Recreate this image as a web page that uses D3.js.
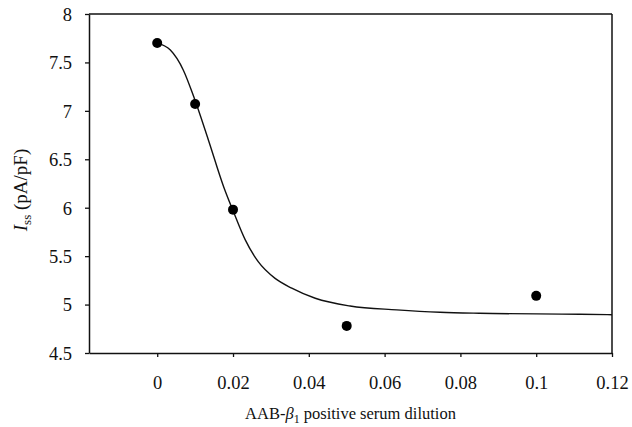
<!DOCTYPE html>
<html>
<head>
<meta charset="utf-8">
<script src="https://cdn.jsdelivr.net/npm/d3@7"></script>
<style>
  body { margin: 0; background: #fff; }
  svg text { font-family: "Liberation Serif", "Times New Roman", serif; fill: #111; }
</style>
</head>
<body>
<div id="chart"></div>
<script>
// measured points
const doseX = [0, 0.01, 0.02, 0.05, 0.1];
const currentY = [7.7, 7.07, 5.98, 4.78, 5.09];

// fitted curve
const fitX = [0, 0.0034, 0.0069, 0.0096, 0.0135, 0.0175, 0.0201, 0.0232, 0.0267, 0.0311, 0.0355, 0.0417, 0.0509, 0.0632, 0.0746, 0.085, 0.1115, 0.12];
const fitY = [7.7, 7.63, 7.42, 7.15, 6.7, 6.22, 5.96, 5.67, 5.44, 5.27, 5.17, 5.065, 4.985, 4.945, 4.92, 4.91, 4.9, 4.895];

const xTicks = [0, 0.02, 0.04, 0.06, 0.08, 0.1, 0.12];
const yTicks = [4.5, 5, 5.5, 6, 6.5, 7, 7.5, 8];

const W = 632, H = 427;
const margin = {left: 89, right: 20, top: 14, bottom: 74};

const svg = d3.select("#chart").append("svg")
    .attr("width", W)
    .attr("height", H);

const x = d3.scaleLinear()
    .domain([-0.018, 0.12])
    .range([margin.left, W - margin.right]);

const y = d3.scaleLinear()
    .domain([4.5, 8])
    .range([H - margin.bottom, margin.top]);

// frame (top + right)
svg.append("line")
    .attr("x1", x.range()[0]).attr("x2", x.range()[1])
    .attr("y1", y(8)).attr("y2", y(8))
    .attr("stroke", "#111").attr("stroke-width", 1.5);
svg.append("line")
    .attr("x1", x(0.12)).attr("x2", x(0.12))
    .attr("y1", y(8)).attr("y2", y(4.5))
    .attr("stroke", "#111").attr("stroke-width", 1.5);

// x axis
const xAxis = svg.append("g")
    .attr("transform", `translate(0,${y(4.5)})`)
    .call(d3.axisBottom(x).tickValues(xTicks).tickSize(4).tickPadding(19).tickSizeOuter(0)
        .tickFormat(d => d3.format("")(+d.toFixed(2))));

// y axis
const yAxis = svg.append("g")
    .attr("transform", `translate(${x(-0.018)},0)`)
    .call(d3.axisLeft(y).tickValues(yTicks).tickSize(4).tickPadding(13).tickSizeOuter(0)
        .tickFormat(d => String(d)));

[xAxis, yAxis].forEach(g => {
    g.select(".domain").attr("stroke", "#111").attr("stroke-width", 1.5);
    g.selectAll(".tick line").attr("stroke", "#111").attr("stroke-width", 1.3);
    g.selectAll(".tick text").style("font-size", "18.5px").attr("fill", "#111");
});
yAxis.selectAll(".tick text").attr("dy", "0.34em");

// fitted curve
const fitData = fitX.map((v, i) => ({x: v, y: fitY[i]}));
svg.append("path")
    .datum(fitData)
    .attr("fill", "none")
    .attr("stroke", "#111")
    .attr("stroke-width", 1.4)
    .attr("d", d3.line().x(d => x(d.x)).y(d => y(d.y)).curve(d3.curveMonotoneX));

// points
const pts = doseX.map((v, i) => ({x: v, y: currentY[i]}));
svg.selectAll("circle.pt")
    .data(pts)
    .join("circle")
    .attr("class", "pt")
    .attr("cx", d => x(d.x))
    .attr("cy", d => y(d.y))
    .attr("r", 5)
    .attr("fill", "#000");

// axis titles
const xt = svg.append("text")
    .attr("x", (x.range()[0] + x.range()[1]) / 2)
    .attr("y", 419)
    .attr("text-anchor", "middle")
    .style("font-size", "16.5px");
xt.append("tspan").text("AAB-");
xt.append("tspan").style("font-style", "italic").text("β");
xt.append("tspan").attr("dy", 4).style("font-size", "12px").text("1");
xt.append("tspan").attr("dy", -4).text(" positive serum dilution");

const yt = svg.append("text")
    .attr("transform", `translate(27,190) rotate(-90)`)
    .attr("text-anchor", "middle")
    .style("font-size", "19px");
yt.append("tspan").style("font-style", "italic").text("I");
yt.append("tspan").attr("dy", 4).style("font-size", "13px").text("ss");
yt.append("tspan").attr("dy", -4).text(" (pA/pF)");
</script>
</body>
</html>
